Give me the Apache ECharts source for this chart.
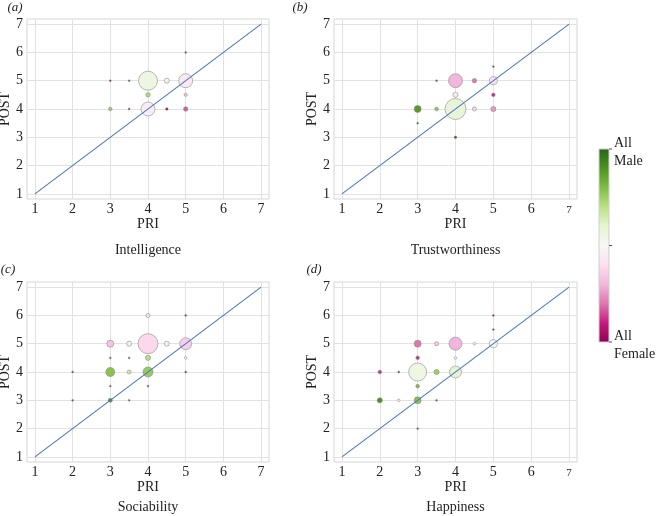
<!DOCTYPE html>
<html>
<head>
<meta charset="utf-8">
<script src="https://cdn.jsdelivr.net/npm/echarts@6/dist/echarts.min.js"></script>
<style>
html,body{margin:0;padding:0;background:#fff;}
#chart{width:659px;height:516px;}
</style>
</head>
<body>
<div id="chart"></div>
<script>
// ---- data ----
const tickValues = [1, 2, 3, 4, 5, 6, 7];
const panelTitles = ['Intelligence', 'Trustworthiness', 'Sociability', 'Happiness'];
const panelLetters = ['(a)', '(b)', '(c)', '(d)'];
const diagonal = [[1, 1], [7, 7]];

// Intelligence
const intelPri  = [4,   4.5, 5,    3, 3.5, 4,    5, 3,    3.5, 4,    4.5, 5,    5];
const intelPost = [5,   5,   5,    5, 5,   4.5,  4.5, 4,   4,   4,    4,   4,    6];
const intelN    = [111, 8,   60,   1, 1,   6,    3,  4,   1,   60,   2,   6,    1];
const intelMale = [0.56,0.47,0.44, 0, 1,   0.72, 0.33,0.75,0,   0.45, 0,   0.17, 1];

// Trustworthiness
const trustPri  = [4,   3.5, 4.5, 5,   5,   4,    5,    3,    3.5,  4,    4.5,  5,    3,   4];
const trustPost = [5,   5,   5,   5,   5.5, 4.5,  4.5,  4,    4,    4,    4,    4,    3.5, 3];
const trustN    = [60,  1,   6,   20,  1,   8,    4,    15,   4,    136,  5,    8,    1,   2];
const trustMale = [0.3, 1,   0.2, 0.4, 0,   0.45, 0.12, 0.88, 0.78, 0.58, 0.38, 0.25, 1,   1];

// Sociability
const socPri  = [4,   5, 3,    3.5,  4,    4.5,  5,    3,   3.5, 4,   5,   2, 3,    3.5,  4,    5, 3,   4,   2, 3,   3.5];
const socPost = [6,   6, 5,    5,    5,    5,    5,    4.5, 4.5, 4.5, 4.5, 4, 4,    4,    4,    4, 3.5, 3.5, 3, 3,   3];
const socN    = [5,   1, 15,   8,    123,  8,    44,   1,   1,   8,   2,   1, 25,   5,    31,   1, 1,   1,   1, 5,   1];
const socMale = [0.4, 0, 0.33, 0.46, 0.38, 0.47, 0.36, 1,   1,   0.7, 0.5, 1, 0.78, 0.65, 0.76, 0, 1,   1,   1, 0.9, 1];

// Happiness
const hapPri  = [5, 5,   3,   3.5,  4,   4.5, 5,   3,    4,   2,    2.5, 3,    3.5,  4,   3,   2,   2.5, 3,    3.5, 3];
const hapPost = [6, 5.5, 5,   5,    5,   5,   5,   4.5,  4.5, 4,    4,   4,    4,    4,   3.5, 3,   3,   3,    3,   2];
const hapN    = [1, 1,   15,  5,    52,  2,   20,  4,    2,   4,    1,   100,  8,    44,  4,   8,   2,   15,   1,   1];
const hapMale = [0, 0,   0.2, 0.35, 0.3, 0.5, 0.5, 0.12, 0.5, 0.12, 0,   0.55, 0.75, 0.6, 0.8, 0.9, 0.5, 0.78, 1,   1];

// PiYG colour scale (female -> male)
const piyg = ['#8e0152','#c51b7d','#de77ae','#f1b6da','#fde0ef','#f7f7f7','#e6f5d0','#b8e186','#7fbc41','#4d9221','#276419'];
const colorbarLabels = ['All\nMale', 'All\nFemale'];

// ---- layout ----
const FONT = '"Liberation Serif", "DejaVu Serif", serif';
const grids = [
  {left: 27,  top: 19,  width: 242, height: 180},
  {left: 334, top: 19,  width: 243, height: 180},
  {left: 27,  top: 282, width: 242, height: 180},
  {left: 334, top: 282, width: 243, height: 180}
];
const panels = [
  [intelPri, intelPost, intelN, intelMale],
  [trustPri, trustPost, trustN, trustMale],
  [socPri, socPost, socN, socMale],
  [hapPri, hapPost, hapN, hapMale]
];
const smallSeven = [false, true, false, true];

function buildData(p) {
  return p[0].map((x, i) => [x, p[1][i], p[2][i], p[3][i]]);
}

const option = {
  backgroundColor: '#ffffff',
  animation: false,
  grid: grids.map(g => Object.assign({
    show: true, borderColor: '#d6d6d6', borderWidth: 1, backgroundColor: 'transparent',
    containLabel: false, outerBoundsMode: 'none'
  }, g)),
  xAxis: grids.map((g, i) => ({
    type: 'value', gridIndex: i, min: 0.79, max: 7.21,
    name: 'PRI', nameLocation: 'middle', nameGap: 18,
    nameTextStyle: {fontFamily: FONT, fontSize: 14, color: '#222'},
    axisLine: {show: false},
    axisTick: {show: false, customValues: tickValues},
    axisLabel: {
      customValues: tickValues, margin: 3, fontFamily: FONT, fontSize: 14, color: '#222',
      formatter: v => (smallSeven[i] && v === 7) ? '{s|7}' : String(v),
      rich: {s: {fontFamily: FONT, fontSize: 11, color: '#222', lineHeight: 17}}
    },
    splitLine: {show: true, lineStyle: {color: '#e2e2e2', width: 1}}
  })),
  yAxis: grids.map((g, i) => ({
    type: 'value', gridIndex: i, min: 0.82, max: 7.18,
    name: 'POST', nameLocation: 'middle', nameGap: 12, nameRotate: 90,
    nameTextStyle: {fontFamily: FONT, fontSize: 14, color: '#222'},
    axisLine: {show: false},
    axisTick: {show: false, customValues: tickValues},
    axisLabel: {customValues: tickValues, margin: 4, fontFamily: FONT, fontSize: 14, color: '#222'},
    splitLine: {show: true, lineStyle: {color: '#e2e2e2', width: 1}}
  })),
  visualMap: {
    show: false, type: 'continuous', min: 0, max: 1, dimension: 3,
    seriesIndex: [0, 2, 4, 6],
    inRange: {color: piyg}
  },
  series: [],
  graphic: []
};

panels.forEach((p, i) => {
  option.series.push({
    type: 'scatter', xAxisIndex: i, yAxisIndex: i, z: 2,
    data: buildData(p),
    symbolSize: v => 1.8 * Math.sqrt(v[2]),
    itemStyle: {borderColor: '#8c8c8c', borderWidth: 0.6, opacity: 1}
  });
  option.series.push({
    type: 'line', xAxisIndex: i, yAxisIndex: i, z: 3,
    data: diagonal, symbol: 'none', silent: true,
    lineStyle: {color: '#4a76c6', width: 1.1}
  });
});

// panel titles and letters
const titleY = [250, 250, 507, 507];
const letterPos = [[15, 8], [300, 8], [8, 270], [314, 270]];
grids.forEach((g, i) => {
  option.graphic.push({
    type: 'text', x: g.left + g.width / 2, y: titleY[i],
    style: {text: panelTitles[i], align: 'center', verticalAlign: 'middle',
            font: '14px ' + FONT, fill: '#222'}
  });
  option.graphic.push({
    type: 'text', x: letterPos[i][0], y: letterPos[i][1],
    style: {text: panelLetters[i], align: 'center', verticalAlign: 'middle',
            font: 'italic 13px ' + FONT, fill: '#222'}
  });
});

// colour bar
const cb = {x: 599, y: 149, w: 10, h: 193};
option.graphic.push({
  type: 'rect', shape: {x: cb.x, y: cb.y, width: cb.w, height: cb.h},
  style: {
    fill: new echarts.graphic.LinearGradient(0, 1, 0, 0,
      piyg.map((c, k) => ({offset: k / (piyg.length - 1), color: c}))),
    stroke: '#cfcfcf', lineWidth: 1
  }
});
[0, 0.5, 1].forEach(f => {
  const y = cb.y + f * cb.h;
  option.graphic.push({
    type: 'line', shape: {x1: cb.x + cb.w, y1: y, x2: cb.x + cb.w + 3, y2: y},
    style: {stroke: '#555', lineWidth: 1}
  });
});
option.graphic.push({
  type: 'text', x: 614, y: cb.y + 3,
  style: {text: colorbarLabels[0], align: 'left', verticalAlign: 'middle',
          font: '14px ' + FONT, fill: '#222', lineHeight: 18}
});
option.graphic.push({
  type: 'text', x: 614, y: cb.y + cb.h + 3,
  style: {text: colorbarLabels[1], align: 'left', verticalAlign: 'middle',
          font: '14px ' + FONT, fill: '#222', lineHeight: 18}
});

const chart = echarts.init(document.getElementById('chart'), null, {renderer: 'canvas'});
chart.setOption(option);
</script>
</body>
</html>
